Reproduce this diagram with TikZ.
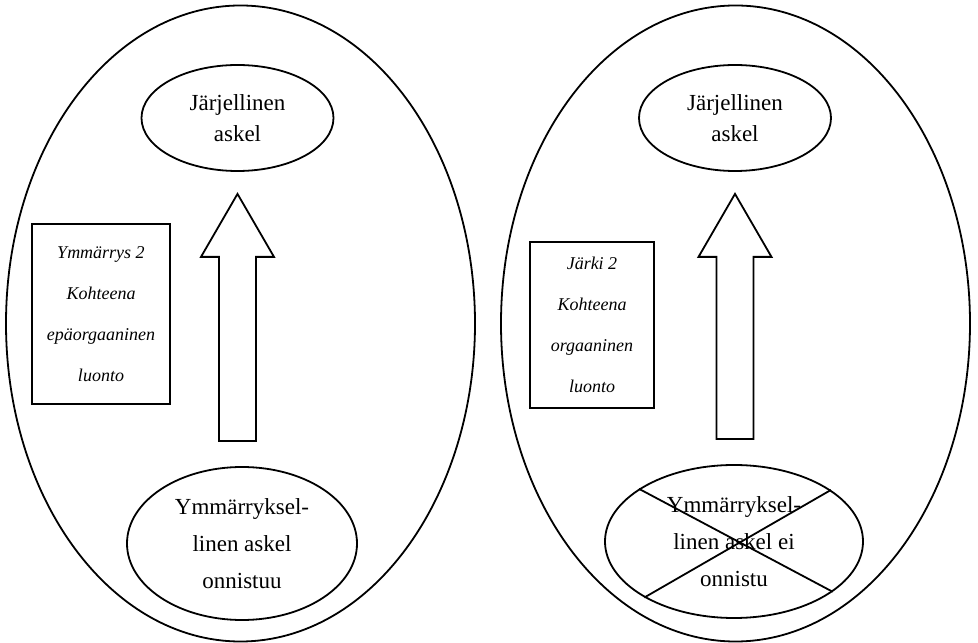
\documentclass[tikz,border=0pt]{standalone}
\usepackage{fontspec}
\setmainfont{Liberation Serif}
\usetikzlibrary{shapes.geometric, calc}
\begin{document}
\begin{tikzpicture}[x=1pt, y=1pt, line width=1.8pt,
    world/.style={draw, ellipse, minimum width=469pt, minimum height=636pt},
    stage/.style={draw, ellipse, inner sep=0pt, align=center,
                  font=\fontsize{23}{31}\selectfont},
    note/.style={draw, rectangle, inner sep=0pt, align=center,
                 font=\fontsize{18}{41}\selectfont\itshape},
    lift/.style={draw, line join=miter}]
    \useasboundingbox (0,0) rectangle (978,643);
    \node[world] (lworld) at (240.5,319.5) {};
    \node[world] (rworld) at (735.5,319.5) {};
    \node[stage, minimum width=192pt, minimum height=106pt] (lgoal) at (237.5,525) {Järjellinen\\askel};
    \node[stage, minimum width=192pt, minimum height=106pt] (rgoal) at (735,525) {Järjellinen\\askel};
    \node[stage, minimum width=230pt, minimum height=153pt, font=\fontsize{23}{37}\selectfont] (lstep) at (242,99.5)
        {Ymmärryksel-\\linen askel\\onnistuu};
    \node[stage, minimum width=258pt, minimum height=153pt, font=\fontsize{23}{37}\selectfont] (rstep) at (734,101.5)
        {Ymmärryksel-\\linen askel ei\\onnistu};
    \node[note, minimum width=138pt, minimum height=180pt] (lnote) at (101,329)
        {Ymmärrys 2\\Kohteena\\epäorgaaninen\\luonto};
    \node[note, minimum width=124pt, minimum height=166pt] (rnote) at (592,318)
        {Järki 2\\Kohteena\\orgaaninen\\luonto};
    \foreach \lo/\hi in {lstep/lgoal, rstep/rgoal}
        \draw[lift] ($(\hi.south |- \lo.north)+(-18.5,25)$) -- ($(\hi.south)+(-18.5,-85)$)
            -- ($(\hi.south)+(-36.5,-85)$) -- ($(\hi.south)+(0,-22)$) -- ($(\hi.south)+(36.5,-85)$)
            -- ($(\hi.south)+(18.5,-85)$) -- ($(\hi.south |- \lo.north)+(18.5,25)$) -- cycle;
    \draw (rstep.151) -- (rstep.-27);
    \draw (rstep.212) -- (rstep.28);
\end{tikzpicture}
\end{document}
